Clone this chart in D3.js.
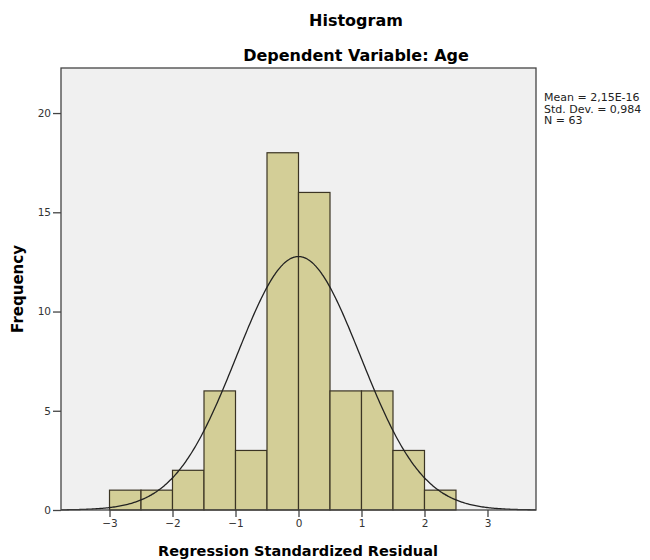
<!DOCTYPE html>
<html>
<head>
<meta charset="utf-8">
<script src="https://cdn.jsdelivr.net/npm/d3@7"></script>
<style>
  body { margin: 0; background: #fff; }
  text { font-family: "DejaVu Sans", sans-serif; }
</style>
</head>
<body>
<div id="chart"></div>
<script>
// histogram bins (lower edge, width 0.5) and counts
var binStarts = [-3, -2.5, -2, -1.5, -1, -0.5, 0, 0.5, 1, 1.5, 2];
var counts = [1, 1, 2, 6, 3, 18, 16, 6, 6, 3, 1];
var binWidth = 0.5;

// summary stats printed next to the chart
var statMean = 2.15e-16;
var statSd = 0.984;
var statN = 63;
var statLines = ["Mean = 2,15E-16", "Std. Dev. = 0,984", "N = 63"];

var xTicks = [-3, -2, -1, 0, 1, 2, 3];
var yTicks = [0, 5, 10, 15, 20];

var width = 650, height = 560;
var plot = { left: 61, right: 536, top: 68, bottom: 510 };

var svg = d3.select("#chart").append("svg")
    .attr("width", width)
    .attr("height", height);

var x = d3.scaleLinear()
    .domain([-3.77, 3.77])
    .range([plot.left, plot.right]);

var y = d3.scaleLinear()
    .domain([0, 22.27])
    .range([plot.bottom, plot.top]);

// plot background
svg.append("rect")
    .attr("x", plot.left)
    .attr("y", plot.top)
    .attr("width", plot.right - plot.left)
    .attr("height", plot.bottom - plot.top)
    .attr("fill", "#f0f0f0");

// bars
svg.selectAll(".bar")
    .data(binStarts)
    .enter().append("rect")
    .attr("class", "bar")
    .attr("x", function (d) { return x(d); })
    .attr("y", function (d, i) { return y(counts[i]); })
    .attr("width", function (d) { return x(d + binWidth) - x(d); })
    .attr("height", function (d, i) { return y(0) - y(counts[i]); })
    .attr("fill", "#d3ce97")
    .attr("stroke", "#3b3424")
    .attr("stroke-width", 1.2);

// normal curve from the mean / sd / N shown at the right
var curveX = d3.range(-3.77, 3.771, 0.02);
var normal = d3.line()
    .x(function (d) { return x(d); })
    .y(function (d) {
        var z = (d - statMean) / statSd;
        return y(statN * binWidth * Math.exp(-0.5 * z * z) / (statSd * Math.sqrt(2 * Math.PI)));
    })
    .curve(d3.curveBasis);

svg.append("path")
    .datum(curveX)
    .attr("d", normal)
    .attr("fill", "none")
    .attr("stroke", "#222")
    .attr("stroke-width", 1.3);

// frame
svg.append("rect")
    .attr("x", plot.left)
    .attr("y", plot.top)
    .attr("width", plot.right - plot.left)
    .attr("height", plot.bottom - plot.top)
    .attr("fill", "none")
    .attr("stroke", "#444")
    .attr("stroke-width", 1.3);

// axes
var yAxis = svg.append("g")
    .attr("transform", "translate(" + plot.left + ",0)")
    .call(d3.axisLeft(y).tickValues(yTicks).tickSize(8).tickPadding(2));

var xAxis = svg.append("g")
    .attr("transform", "translate(0," + plot.bottom + ")")
    .call(d3.axisBottom(x).tickValues(xTicks).tickSize(7).tickPadding(3)
        .tickFormat(function (d) { return d < 0 ? "\u2212" + Math.abs(d) : d; }));

[yAxis, xAxis].forEach(function (a) {
    a.select(".domain").remove();
    a.selectAll("line").attr("stroke", "#444").attr("stroke-width", 1.3);
    a.selectAll("text")
        .attr("fill", "#333")
        .style("font-family", "DejaVu Sans, sans-serif")
        .style("font-size", "10.5px");
});

// titles
svg.append("text")
    .text("Histogram")
    .attr("x", 356)
    .attr("y", 26)
    .attr("text-anchor", "middle")
    .attr("font-weight", "bold")
    .attr("font-size", "16px");

svg.append("text")
    .text("Dependent Variable: Age")
    .attr("x", 356)
    .attr("y", 61)
    .attr("text-anchor", "middle")
    .attr("font-weight", "bold")
    .attr("font-size", "16px");

svg.append("text")
    .text("Regression Standardized Residual")
    .attr("x", 298)
    .attr("y", 556)
    .attr("text-anchor", "middle")
    .attr("font-weight", "bold")
    .attr("font-size", "14.5px");

svg.append("text")
    .text("Frequency")
    .attr("transform", "translate(23,289) rotate(-90)")
    .attr("text-anchor", "middle")
    .attr("font-weight", "bold")
    .attr("font-size", "15px");

// stats box text
svg.selectAll(".stat")
    .data(statLines)
    .enter().append("text")
    .attr("class", "stat")
    .text(function (d) { return d; })
    .attr("x", 544)
    .attr("y", function (d, i) { return 101 + i * 11.5; })
    .attr("font-size", "11px")
    .attr("fill", "#222");
</script>
</body>
</html>
